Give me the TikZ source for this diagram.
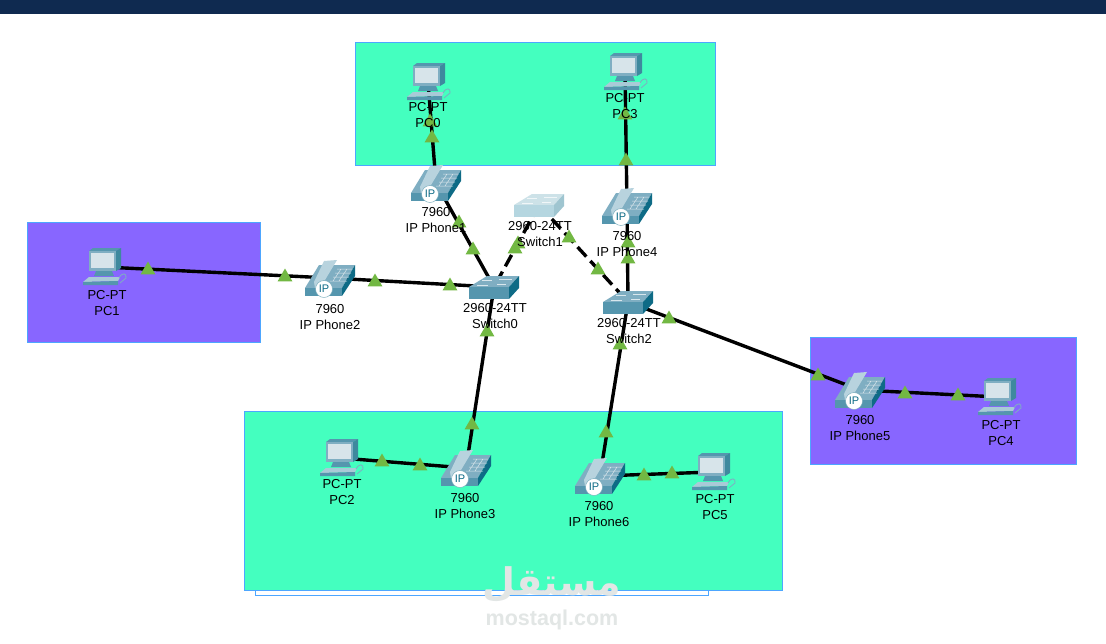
\documentclass[tikz,border=0pt]{standalone}
\usepackage{fontspec}
\setmainfont{Liberation Sans}
\newfontfamily\arabicfont[Script=Arabic]{DejaVu Sans}
\TeXXeTstate=1
\usetikzlibrary{shapes.geometric}
\definecolor{navy}{HTML}{0F2A50}
\definecolor{mint}{HTML}{44FFBF}
\definecolor{violet2}{HTML}{8866FF}
\definecolor{edgeblue}{HTML}{4DA6FF}
\definecolor{tri}{HTML}{72B843}
\definecolor{wm}{HTML}{E2E6E5}
\definecolor{dkteal}{HTML}{0E6B86}
\definecolor{midteal}{HTML}{5596AE}
\definecolor{topteal}{HTML}{7FAEC2}
\definecolor{screen}{HTML}{D7E4EA}
\definecolor{pale}{HTML}{B8D3DE}
\tikzset{
  x=1pt,y=-1pt,
  area/.style={draw=edgeblue,line width=1pt},
  link/.style={line width=3.4pt,black},
  dashlink/.style={line width=3.4pt,black,dash pattern=on 13pt off 6pt,dash phase=0pt},
  marker/.style={regular polygon,regular polygon sides=3,fill=tri,inner sep=0pt,minimum size=17pt},
  lbl/.style={align=center,font=\fontsize{13}{16}\selectfont,inner sep=0pt,text=black},
  pics/pcicon/.style={code={
    \fill[midteal] (-15,-16)--(-11,-19)--(17,-19)--(12,-16)--cycle;
    \fill[dkteal!80] (12,-16)--(17,-19)--(17,1)--(12,4)--cycle;
    \fill[topteal] (-15,-16) rectangle (12,4);
    \fill[screen] (-13,-14) rectangle (10,1);
    \fill[midteal] (-8,4)--(8,4)--(10,9)--(-10,9)--cycle;
    \fill[pale!85!midteal] (-15,10)--(16,10)--(14,14)--(-21,15)--cycle;
    \fill[midteal] (-21,15)--(14,14)--(14,18)--(-21,18)--cycle;
    \draw[topteal,line width=.8pt] (15,11) .. controls (18,5) and (23,6) .. (22,11) -- (16,16);
  }},
  pics/phoneicon/.style={code={
    \fill[topteal] (-25,10)--(-11,-13)--(25,-13)--(12,10)--cycle;
    \fill[dkteal] (12,10)--(25,-13)--(25,-2)--(12,18)--cycle;
    \fill[midteal] (-25,10) rectangle (12,18);
    \fill[pale] (-16,4)--(-6,-17)--(7,-18)--(-5,2)--(-9,10)--(-15,10)--cycle;
    \draw[screen,line width=.5pt] (0,3)--(17,3) (3,-1)--(19,-1) (5,-5)--(21,-5) (7,-9)--(22,-9)
       (3,3)--(11,-9) (9,3)--(17,-9);
    \node[circle,fill=white,draw=dkteal!60,line width=.4pt,minimum size=17pt,inner sep=0pt,text=dkteal,font=\fontsize{11}{11}\selectfont] (ip) at (-6,11) {IP};
  }},
  pics/switchicon/.style n args={3}{code={
    \fill[#2] (-25,0)--(-7,-11)--(25,-11)--(15,0)--cycle;
    \fill[#3] (15,0)--(25,-11)--(25,1)--(15,12)--cycle;
    \fill[#1] (-25,0) rectangle (15,12);
    \draw[white!70!#2,line width=.7pt] (-17,-2)--(-6,-2) (-12,-7)--(-2,-7) (5,-8)--(18,-8) (3,-3)--(12,-3);
  }},
}
\definecolor{swfront}{HTML}{B5D6E0}
\definecolor{swtop}{HTML}{CDE2E8}
\definecolor{swside}{HTML}{9FC5D0}
\begin{document}
\begin{tikzpicture}
\useasboundingbox (0,0) rectangle (1106,643);
\fill[white] (0,0) rectangle (1106,643);
\fill[navy] (0,0) rectangle (1106,14);
% areas
\draw[area,fill=white] (255.5,420) rectangle (708.5,595);
\draw[area,fill=mint] (355.5,42.5) rectangle (715.5,165.5);
\draw[area,fill=violet2] (27.5,222.5) rectangle (260.5,342.5);
\draw[area,fill=mint] (244.5,411.5) rectangle (782.5,590.5);
\draw[area,fill=violet2] (810.5,337.5) rectangle (1076.5,464.5);
% watermark
\node[text=wm,inner sep=0pt,font=\arabicfont\bfseries\fontsize{38}{38}\selectfont] (wmar) at (552,585) {\beginR مستقل\endR};
\node[text=wm,inner sep=0pt,font=\bfseries\fontsize{21.5}{22}\selectfont] (wmen) at (552,620) {mostaql.com};
% anchors
\coordinate (pc0) at (428,82);
\coordinate (pc3) at (625,72);
\coordinate (pc1) at (104,267);
\coordinate (pc2) at (341,458);
\coordinate (pc5) at (713,472);
\coordinate (pc4) at (999,397);
\coordinate (ph1) at (436,183);
\coordinate (ph4) at (627,206);
\coordinate (ph2) at (330,278);
\coordinate (ph3) at (466,468);
\coordinate (ph6) at (600,476);
\coordinate (ph5) at (860,390);
\coordinate (sw0) at (494,287);
\coordinate (sw1) at (539,205);
\coordinate (sw2) at (628,302);
% links
\draw[link] (pc0)--(ph1);
\draw[link] (pc3)--(ph4);
\draw[link] (pc1)--(ph2);
\draw[link] (pc2)--(ph3);
\draw[link] (pc5)--(ph6);
\draw[link] (pc4)--(ph5);
\draw[link] (ph1)--(sw0);
\draw[link] (ph2)--(sw0);
\draw[link] (ph3)--(sw0);
\draw[link] (ph4)--(sw2);
\draw[link] (ph6)--(sw2);
\draw[link] (ph5)--(sw2);
\draw[dashlink] (sw1)--(sw0);
\draw[dashlink] (sw1)--(sw2);
% link lights
\foreach \mx/\my [count=\k] in {430/122,432/138,625/115,626/161,459/223,473/250,628/243,628/259,
  518/244,515/249,569/238,598/270,148/270,285/277,375/282,450/286,487/332,472/425,620/345,606/433,
  669/319,818/376,905/394,958/396,382/462,420/466,644/476,672/474}
  \node[marker] (light\k) at (\mx,\my) {};
% icons
\path (pc0) pic {pcicon};
\path (pc3) pic {pcicon};
\path (pc1) pic {pcicon};
\path (pc2) pic {pcicon};
\path (pc5) pic {pcicon};
\path (pc4) pic {pcicon};
\path (ph1) pic {phoneicon};
\path (ph4) pic {phoneicon};
\path (ph2) pic {phoneicon};
\path (ph3) pic {phoneicon};
\path (ph6) pic {phoneicon};
\path (ph5) pic {phoneicon};
\path (sw0) pic {switchicon={midteal}{topteal}{dkteal}};
\path (sw2) pic {switchicon={midteal}{topteal}{dkteal}};
\path (sw1) pic {switchicon={swfront}{swtop}{swside}};
% labels
\node[lbl] (lpc0) at (428,115) {PC-PT\\PC0};
\node[lbl] (lpc3) at (625,106) {PC-PT\\PC3};
\node[lbl] (lpc1) at (107,303) {PC-PT\\PC1};
\node[lbl] (lpc2) at (342,492) {PC-PT\\PC2};
\node[lbl] (lpc5) at (715,507) {PC-PT\\PC5};
\node[lbl] (lpc4) at (1001,433) {PC-PT\\PC4};
\node[lbl] (lph1) at (436,220) {7960\\IP Phone1};
\node[lbl] (lph4) at (627,244) {7960\\IP Phone4};
\node[lbl] (lph2) at (330,317) {7960\\IP Phone2};
\node[lbl] (lph3) at (465,506) {7960\\IP Phone3};
\node[lbl] (lph6) at (599,514) {7960\\IP Phone6};
\node[lbl] (lph5) at (860,428) {7960\\IP Phone5};
\node[lbl] (lsw0) at (495,316) {2960-24TT\\Switch0};
\node[lbl] (lsw1) at (540,234) {2960-24TT\\Switch1};
\node[lbl] (lsw2) at (629,331) {2960-24TT\\Switch2};
\end{tikzpicture}
\end{document}
